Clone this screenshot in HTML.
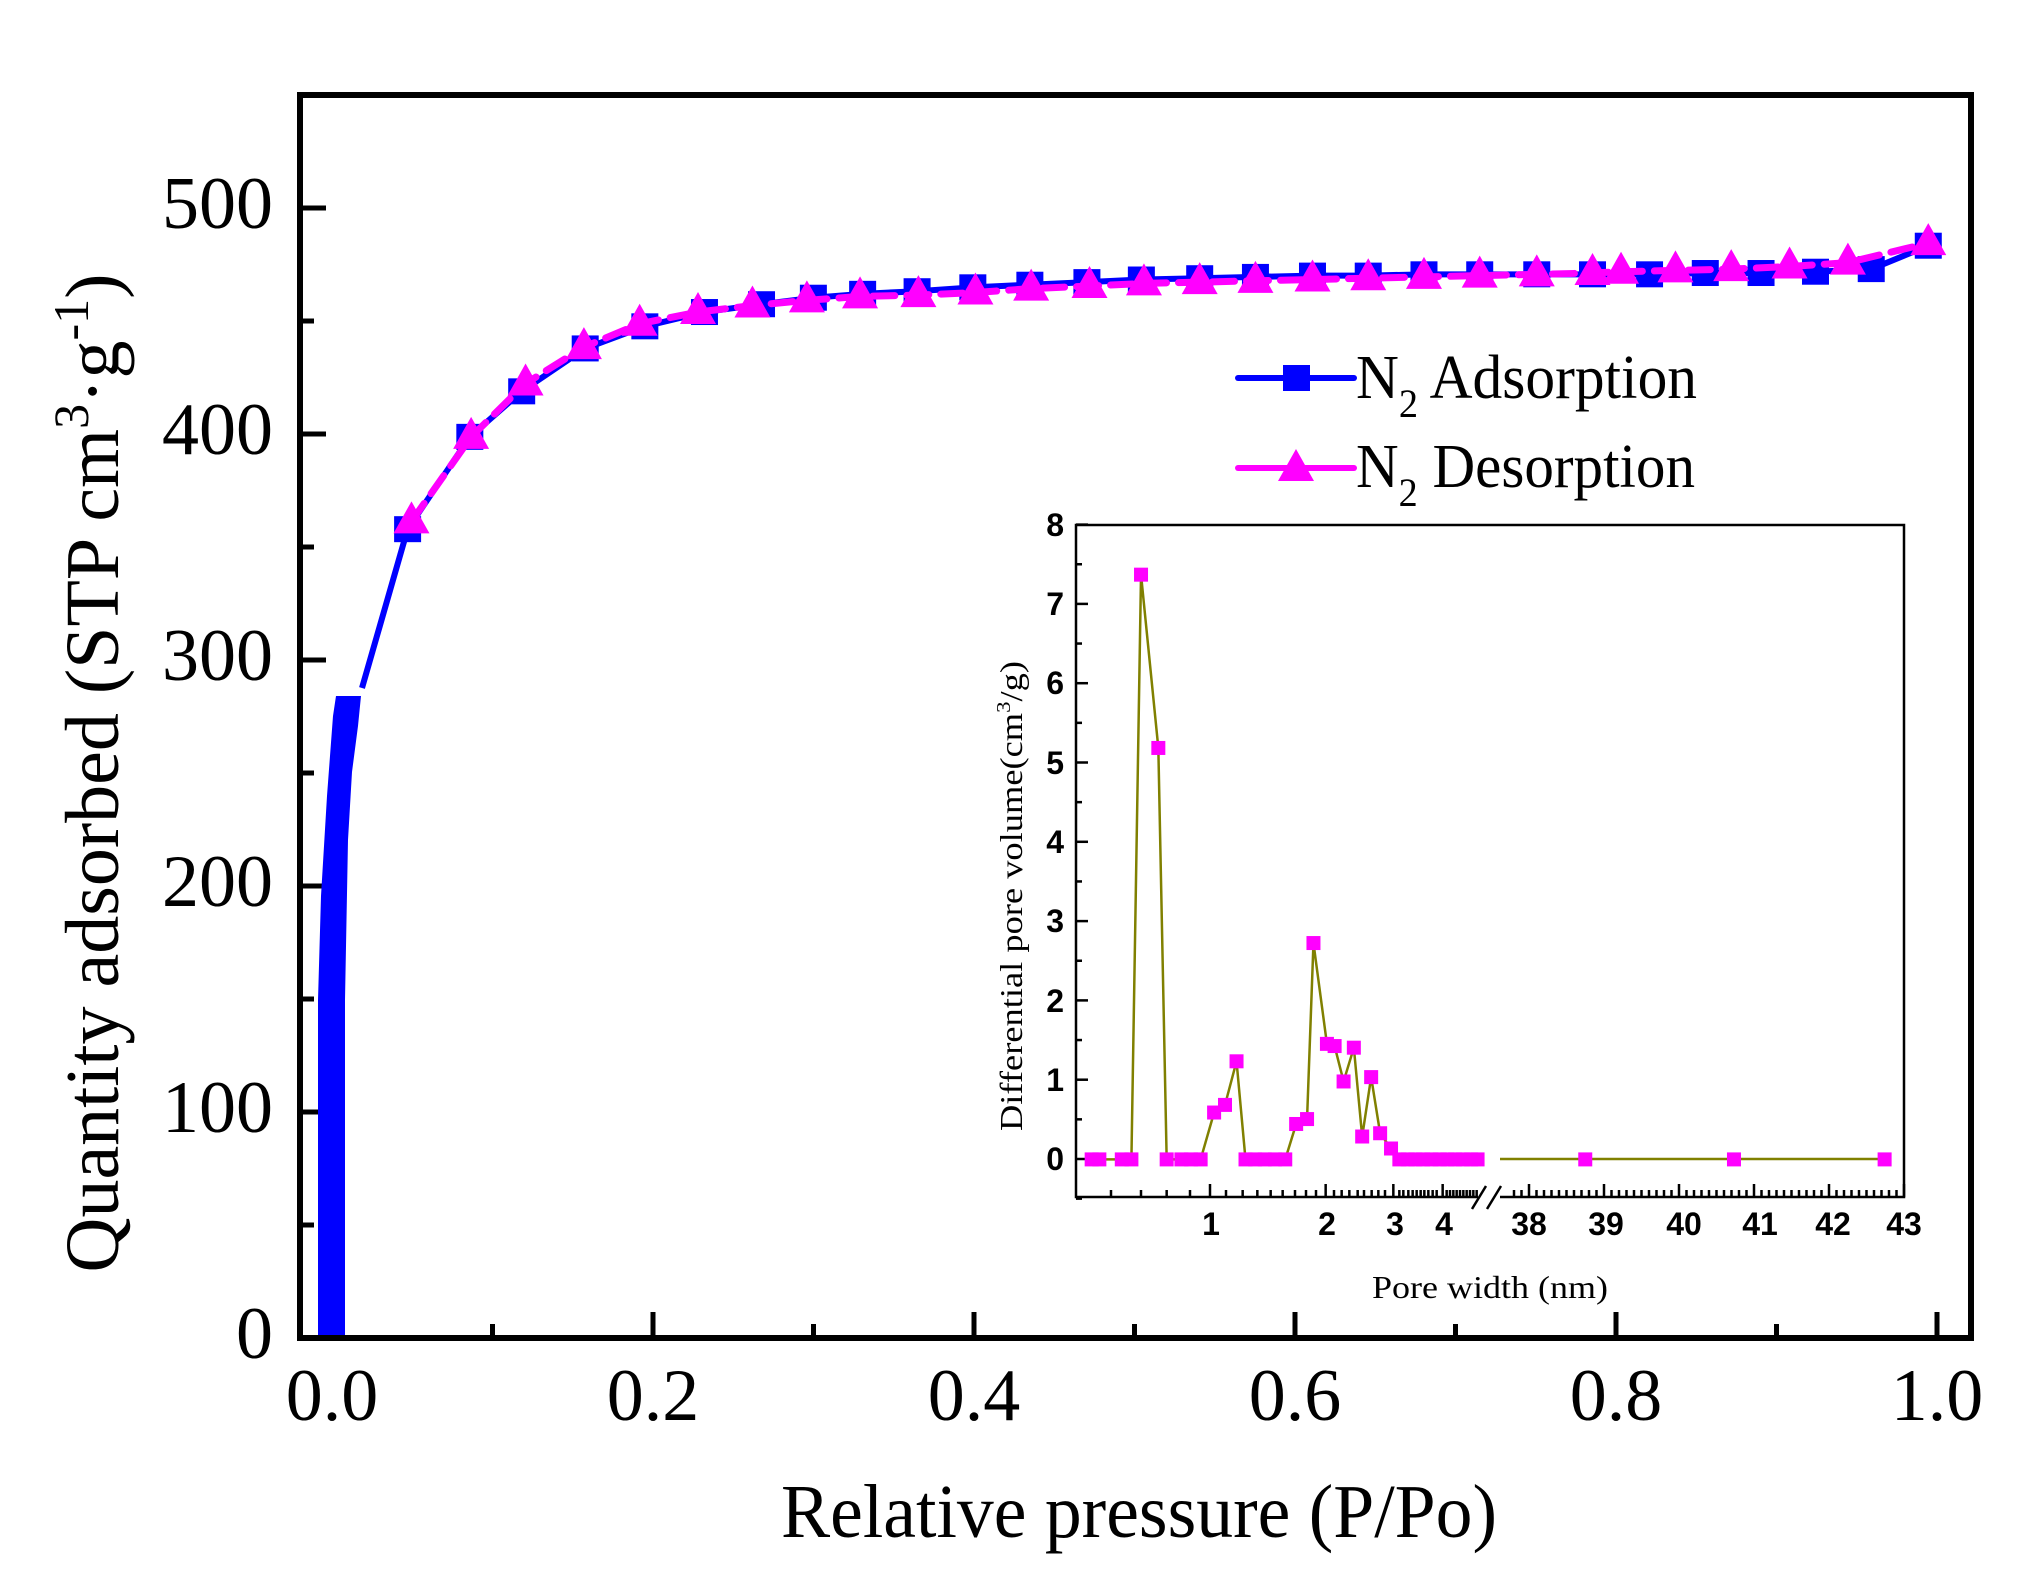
<!DOCTYPE html>
<html><head><meta charset="utf-8"><style>
html,body{margin:0;padding:0;background:#fff;}
svg{display:block;}
</style></head><body>
<svg id="s" width="2032" height="1572" viewBox="0 0 2032 1572" xmlns="http://www.w3.org/2000/svg" font-family="Liberation Serif, serif">
<rect width="2032" height="1572" fill="#fff"/>
<g id="main"></g>
<g id="inset"></g>
<g font-size="74" fill="#000" text-anchor="middle">
<text x="332" y="1420">0.0</text><text x="653" y="1420">0.2</text><text x="974" y="1420">0.4</text>
<text x="1295" y="1420">0.6</text><text x="1616" y="1420">0.8</text><text x="1937" y="1420">1.0</text>
</g>
<g font-size="74" fill="#000" text-anchor="end">
<text x="273" y="1358">0</text><text x="273" y="1132">100</text><text x="273" y="906">200</text>
<text x="273" y="680">300</text><text x="273" y="454">400</text><text x="273" y="228">500</text>
</g>
<text x="1139" y="1537" font-size="76" text-anchor="middle" textLength="716" lengthAdjust="spacingAndGlyphs">Relative pressure (P/Po)</text>
<text transform="translate(118,773) rotate(-90)" font-size="76" text-anchor="middle">Quantity adsorbed (STP cm<tspan font-size="50" dy="-30">3</tspan><tspan dy="30">·g</tspan><tspan font-size="50" dy="-30">-1</tspan><tspan dy="30">)</tspan></text>
<line x1="1238" y1="378" x2="1354" y2="378" stroke="#0000ff" stroke-width="6" stroke-linecap="round"/>
<rect x="1283" y="365" width="27" height="26" fill="#0000ff"/>
<text x="1356" y="398" font-size="62" textLength="341" lengthAdjust="spacingAndGlyphs">N<tspan font-size="40" dy="19">2</tspan><tspan dy="-19"> Adsorption</tspan></text>
<line x1="1238" y1="468" x2="1354" y2="468" stroke="#ff00ff" stroke-width="6" stroke-linecap="round"/>
<polygon points="1296,449 1314,481 1278,481" fill="#ff00ff"/>
<text x="1356" y="487" font-size="62" textLength="339" lengthAdjust="spacingAndGlyphs">N<tspan font-size="40" dy="19">2</tspan><tspan dy="-19"> Desorption</tspan></text>
<g font-family="Liberation Sans, sans-serif" font-weight="bold" font-size="32" text-anchor="end">
<text x="1064" y="1170">0</text><text x="1064" y="1091">1</text><text x="1064" y="1012">2</text><text x="1064" y="932">3</text>
<text x="1064" y="853">4</text><text x="1064" y="774">5</text><text x="1064" y="694">6</text><text x="1064" y="615">7</text><text x="1064" y="536">8</text>
</g>
<g font-family="Liberation Sans, sans-serif" font-weight="bold" font-size="32" text-anchor="middle">
<text x="1211" y="1235">1</text><text x="1327" y="1235">2</text><text x="1395" y="1235">3</text><text x="1444" y="1235">4</text>
<text x="1529" y="1235">38</text><text x="1606" y="1235">39</text><text x="1684" y="1235">40</text><text x="1760" y="1235">41</text><text x="1833" y="1235">42</text><text x="1904" y="1235">43</text>
</g>
<text x="1490" y="1298" font-size="32" text-anchor="middle" textLength="236" lengthAdjust="spacingAndGlyphs">Pore width (nm)</text>
<text transform="translate(1022,896) rotate(-90)" font-size="32" text-anchor="middle" textLength="470" lengthAdjust="spacingAndGlyphs">Differential pore volume(cm<tspan font-size="20" dy="-12">3</tspan><tspan dy="12">/g)</tspan></text>
</svg>
<script>
var NS="http://www.w3.org/2000/svg";
function el(p,t,a){var e=document.createElementNS(NS,t);for(var k in a)e.setAttribute(k,a[k]);p.appendChild(e);return e;}
var M=document.getElementById("main"),I=document.getElementById("inset");
var L=300,R=1971,T=95,B=1338;
for(var i=0;i<=10;i++){var x=332+160.5*i;el(M,"line",{x1:x,y1:B,x2:x,y2:B-(i%2==0?26:14),stroke:"#000","stroke-width":5});}
for(var i=0;i<=11;i++){var y=B-113*i;el(M,"line",{x1:L,y1:y,x2:L+(i%2==0?26:14),y2:y,stroke:"#000","stroke-width":5});}
el(M,"polygon",{points:"318,1338 345,1338 345,1000 348,840 352,772 358,726 361,696 336,696 333,716 327,796 321,896 318,1000",fill:"#0000ff"});
function X(d){return 300+(d-231)*1.2964;} function Y(d){return 208+(d-161)*1.3003;}
var ax=[314,362,402,451,497,543,587,627,665,707,750,794,838,880,925,968,1012,1055,1098,1141,1185,1228,1272,1315,1358,1400,1443,1487];
var ay=[408,337,302,269,252,241,235,230,227,225,222,220,218,216,215,214,213,213,212,212,212,212,212,211,211,210,208,190];
var dx=[317,363,405,450,493,538,580,622,663,708,752,795,840,882,925,968,1012,1055,1098,1141,1185,1228,1250,1292,1335,1380,1425,1487];
var dy=[402,337,296,268,250,241,236,232,229,228,226,223,221,219,218,217,216,215,214,213,212,211,210,209,208,206,203,188];
var pa="M362,688";for(var i=0;i<ax.length;i++)pa+=" L"+X(ax[i])+","+Y(ay[i]);
el(M,"path",{d:pa,fill:"none",stroke:"#0000ff","stroke-width":6});
var pd="";for(var i=0;i<dx.length;i++)pd+=(i?" L":"M")+X(dx[i])+","+Y(dy[i]);
for(var i=0;i<ax.length;i++)el(M,"rect",{x:X(ax[i])-13.5,y:Y(ay[i])-13,width:27,height:26,fill:"#0000ff"});
el(M,"path",{d:pd,fill:"none",stroke:"#ff00ff","stroke-width":7,"stroke-dasharray":"22 12","stroke-linecap":"round"});
for(var i=0;i<dx.length;i++){var x=X(dx[i]),y=Y(dy[i]);el(M,"polygon",{points:x+","+(y-20)+" "+(x+18)+","+(y+12)+" "+(x-18)+","+(y+12),fill:"#ff00ff"});}
el(M,"rect",{x:L,y:T,width:R-L,height:B-T,fill:"none",stroke:"#000","stroke-width":6});
var iL=1076,iR=1904,iT=525,iB=1197,y0=1159,uy=79.3;
el(I,"rect",{x:iL,y:iT,width:iR-iL,height:iB-iT,fill:"#fff",stroke:"none"});
for(var v=-0.5;v<=8;v+=0.5){var y=y0-v*uy;el(I,"line",{x1:iL,y1:y,x2:iL+(v%1==0?12:6),y2:y,stroke:"#000","stroke-width":2.5});}
var tz=[153,243,320,390,498,548,592,632,668,705,738,768,822,845,868,893,912,935,955,975,1018,1030,1045,1058,1070,1082,1093,1105,1118,1130,1160,1170,1180,1190,1200,1210,1220,1230,1240,1250];
var mz=[450,797,1000,1148];
tz.forEach(function(z){var x=1060+z/3;el(I,"line",{x1:x,y1:iB,x2:x,y2:iB-7,stroke:"#000","stroke-width":2.5});});
mz.forEach(function(z){var x=1060+z/3;el(I,"line",{x1:x,y1:iB,x2:x,y2:iB-13,stroke:"#000","stroke-width":2.5});});
for(var k=0;k<=52;k++){var v=37.8+k*0.1;var x=1529+(v-38)*75;if(x<1504||x>iR)continue;var maj=Math.abs(v-Math.round(v))<0.01;el(I,"line",{x1:x,y1:iB,x2:x,y2:iB-(maj?13:7),stroke:"#000","stroke-width":2.5});}
var P=[[143,1210],[155,1210],[190,1210],[205,1210],[220,137],[247,455],[260,1210],[283,1210],[298,1210],[313,1210],[334,1124],[351,1110],[369,1030],[383,1210],[398,1210],[413,1210],[429,1210],[445,1210],[462,1145],[479,1136],[489,813],[510,998],[522,1002],[536,1067],[552,1005],[565,1168],[579,1059],[593,1162],[610,1190],[623,1210],[636,1210],[648,1210],[660,1210],[673,1210],[686,1210],[698,1210],[710,1210],[722,1210],[735,1210],[745,1210]];
function tx(z){return 1000+z[0]/1.56;} function ty(z){return 500+z[1]/1.835;}
var pp="";P.forEach(function(p,i){pp+=(i?" L":"M")+tx(p)+","+ty(p);});
el(I,"path",{d:pp,fill:"none",stroke:"#808000","stroke-width":2.5});
el(I,"line",{x1:1000+780/1.56,y1:y0,x2:1000+1370/1.56,y2:y0,stroke:"#808000","stroke-width":2.5});
P.concat([[913,1210],[1145,1210],[1380,1210]]).forEach(function(p){el(I,"rect",{x:tx(p)-7,y:ty(p)-7,width:14,height:14,fill:"#ff00ff"});});
el(I,"path",{d:"M1478,"+iB+" L"+iL+","+iB+" L"+iL+","+iT+" L"+iR+","+iT+" L"+iR+","+iB+" L1500,"+iB,fill:"none",stroke:"#000","stroke-width":2.5});
el(I,"line",{x1:1472,y1:1209,x2:1486,y2:1186,stroke:"#000","stroke-width":2.5});
el(I,"line",{x1:1487,y1:1209,x2:1501,y2:1186,stroke:"#000","stroke-width":2.5});
</script>
</body></html>
